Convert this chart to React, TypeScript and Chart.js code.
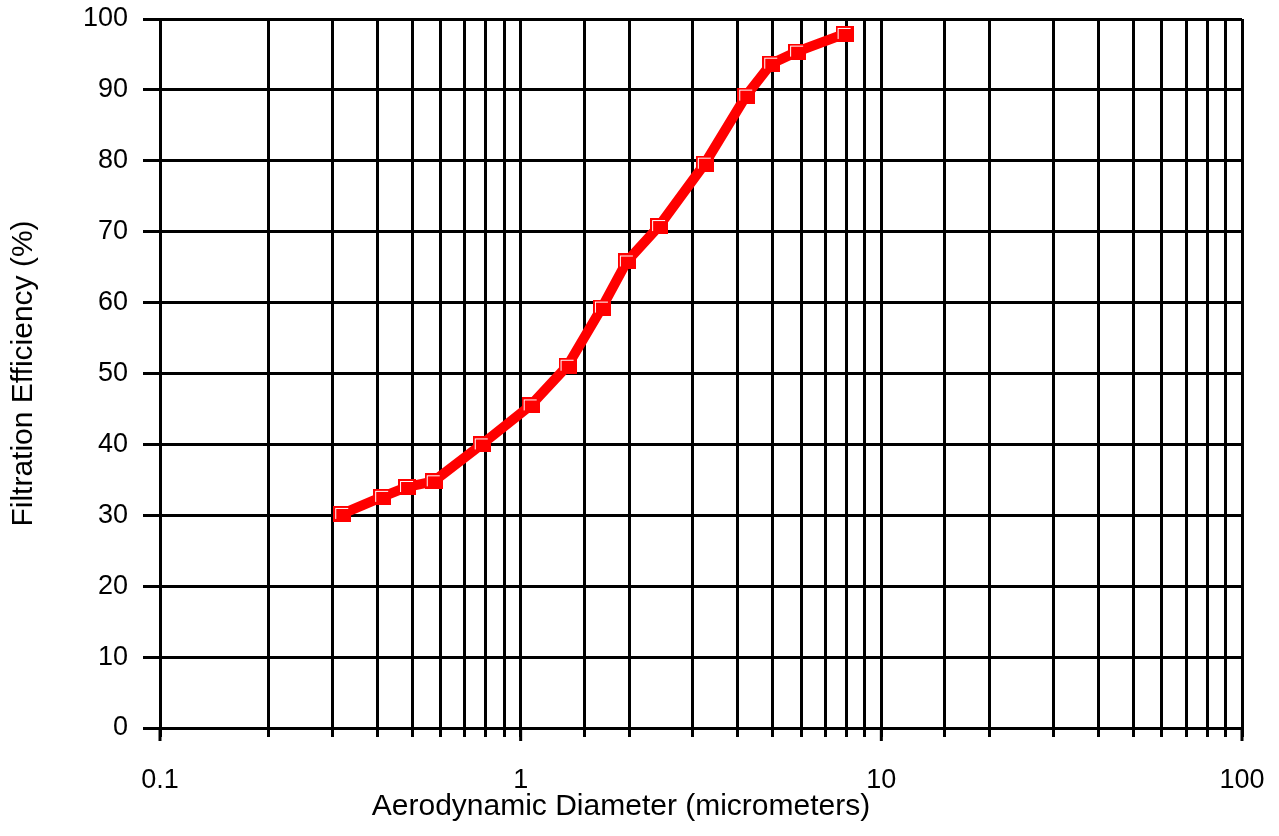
import { useEffect, useRef } from 'react';
import { Chart, registerables, Plugin } from 'chart.js';

Chart.register(...registerables);

// Aerodynamic diameter (micrometers) and filtration efficiency (%)
const diameters = [0.32, 0.413, 0.484, 0.574, 0.78, 1.066, 1.349, 1.68, 1.97, 2.42, 3.24, 4.22, 4.95, 5.84, 7.91];
const efficiencies = [30.2, 32.6, 34.0, 34.8, 40.0, 45.5, 51.1, 59.3, 65.8, 70.8, 79.6, 89.2, 93.7, 95.4, 97.9];

const xTickLabels = [0.1, 1, 10, 100];
const xTitle = 'Aerodynamic Diameter (micrometers)';

const FONT = '"Liberation Sans", Arial, sans-serif';

// square marker with a thin white bevel on the top-left, like the original
function makeMarker(): HTMLCanvasElement {
  const c = document.createElement('canvas');
  c.width = 18;
  c.height = 16;
  const g = c.getContext('2d');
  if (g) {
    g.fillStyle = '#ff0000';
    g.fillRect(0, 0, 18, 16);
    g.fillStyle = '#ffffff';
    g.fillRect(2, 2, 13, 1);
    g.fillRect(2, 2, 1, 11);
  }
  return c;
}

// longer ticks at the decades, and the x title which sits left of centre in the original
const axisExtras: Plugin<'line'> = {
  id: 'axisExtras',
  afterDraw(chart) {
    const { ctx, chartArea } = chart;
    const xScale = chart.scales.x;
    ctx.save();
    ctx.strokeStyle = '#000000';
    ctx.lineWidth = 3;
    for (const v of xTickLabels) {
      const px = xScale.getPixelForValue(v);
      ctx.beginPath();
      ctx.moveTo(px, chartArea.bottom);
      ctx.lineTo(px, chartArea.bottom + 13);
      ctx.stroke();
    }
    ctx.fillStyle = '#000000';
    ctx.font = `30px ${FONT}`;
    ctx.textAlign = 'center';
    ctx.textBaseline = 'middle';
    const cx = (chartArea.left + chartArea.right) / 2 - 80;
    ctx.fillText(xTitle, cx, chartArea.bottom + 79);
    ctx.restore();
  },
};

export default function App() {
  const chartRef = useRef<HTMLCanvasElement>(null);
  const chartInstance = useRef<Chart | null>(null);

  useEffect(() => {
    document.body.style.margin = '0';
    if (!chartRef.current) return;
    const ctx = chartRef.current.getContext('2d');
    if (!ctx) return;

    if (chartInstance.current) {
      chartInstance.current.destroy();
    }

    const points = diameters.map((d, i) => ({ x: d, y: efficiencies[i] }));
    const marker = makeMarker();

    chartInstance.current = new Chart(ctx, {
      type: 'line',
      data: {
        datasets: [
          {
            data: points,
            borderColor: '#ff0000',
            borderWidth: 10,
            backgroundColor: '#ff0000',
            pointStyle: marker,
            pointRadius: 9,
            tension: 0,
          },
        ],
      },
      options: {
        responsive: true,
        maintainAspectRatio: false,
        animation: false,
        layout: {
          padding: { top: 18, right: 37, left: 0, bottom: 0 },
        },
        plugins: {
          legend: { display: false },
          tooltip: { enabled: false },
        },
        scales: {
          x: {
            type: 'logarithmic',
            min: 0.1,
            max: 100,
            afterFit: (scale) => {
              scale.height = 108;
              scale.paddingLeft = 0;
              scale.paddingRight = 0;
            },
            grid: {
              color: '#000000',
              lineWidth: 3,
              tickLength: 9,
              tickColor: '#000000',
              tickWidth: 3,
            },
            border: { display: true, color: '#000000', width: 3 },
            ticks: {
              autoSkip: false,
              maxRotation: 0,
              minRotation: 0,
              padding: 27,
              color: '#000000',
              font: { family: FONT, size: 27 },
              callback: (value) => {
                const v = Number(value);
                const hit = xTickLabels.find((t) => Math.abs(t - v) < 1e-9 * Math.max(1, t));
                return hit !== undefined ? String(hit) : '';
              },
            },
            title: { display: false },
          },
          y: {
            type: 'linear',
            min: 0,
            max: 100,
            afterFit: (scale) => {
              scale.width = 160;
              scale.paddingTop = 0;
              scale.paddingBottom = 0;
            },
            grid: {
              color: '#000000',
              lineWidth: 3,
              tickLength: 17,
              tickColor: '#000000',
              tickWidth: 3,
            },
            border: { display: true, color: '#000000', width: 3 },
            ticks: {
              stepSize: 10,
              padding: 15,
              color: '#000000',
              font: { family: FONT, size: 27 },
            },
            title: {
              display: true,
              text: 'Filtration Efficiency (%)',
              color: '#000000',
              font: { family: FONT, size: 30 },
              padding: { top: 6, bottom: 0 },
            },
          },
        },
      },
      plugins: [axisExtras],
    });

    return () => {
      if (chartInstance.current) {
        chartInstance.current.destroy();
        chartInstance.current = null;
      }
    };
  }, []);

  return (
    <div style={{ position: 'absolute', left: 0, top: 0, width: 1279, height: 836, background: '#ffffff' }}>
      <canvas ref={chartRef} />
    </div>
  );
}
